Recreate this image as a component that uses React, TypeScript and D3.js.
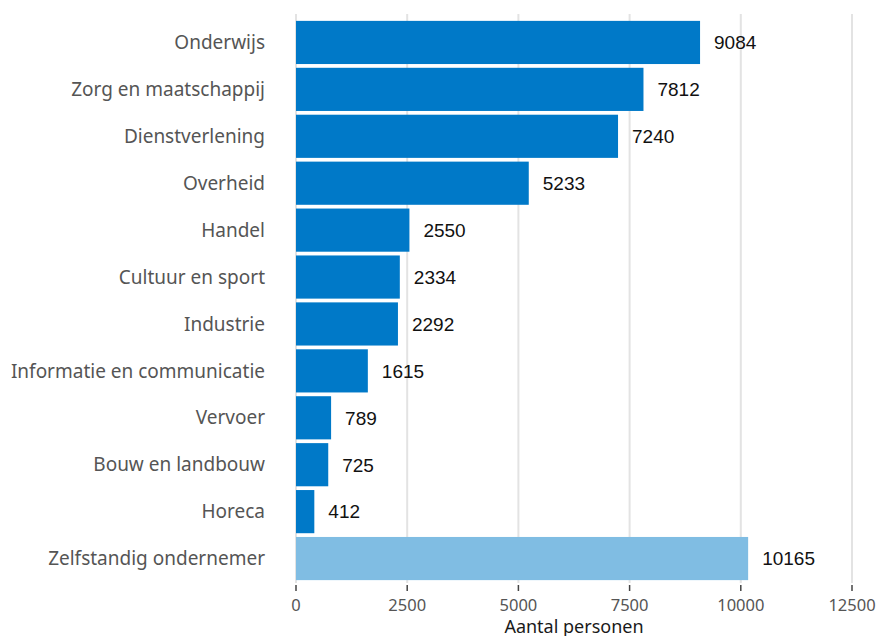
import * as d3 from 'd3';
import * as React from 'react';

const categories = [
    'Onderwijs',
    'Zorg en maatschappij',
    'Dienstverlening',
    'Overheid',
    'Handel',
    'Cultuur en sport',
    'Industrie',
    'Informatie en communicatie',
    'Vervoer',
    'Bouw en landbouw',
    'Horeca',
    'Zelfstandig ondernemer',
];
const values = [9084, 7812, 7240, 5233, 2550, 2334, 2292, 1615, 789, 725, 412, 10165];
const highlighted = ['Zelfstandig ondernemer'];
const xTicks = [0, 2500, 5000, 7500, 10000, 12500];
const xTitle = 'Aantal personen';

const width = 877;
const height = 636;
const left = 296;
const right = 852;
const top = 19;
const bottom = 582;

const darkBlue = '#0079c8';
const lightBlue = '#80bde3';
const labelFont = '"Noto Sans", sans-serif';

/**
 * Horizontal bar chart
 */
export default function App() {
    const x = d3.scaleLinear().domain([0, 12500]).range([left, right]);
    const y = d3.scaleBand<string>()
        .domain(categories)
        .range([top, bottom])
        .paddingInner(0.08)
        .paddingOuter(0.04);

    return (
        <svg width={width} height={height} style={{ position: 'absolute', left: 0, top: 0 }}>
            <rect width={width} height={height} fill="#fff" />
            {xTicks.map(t => (
                <g key={t}>
                    <line x1={x(t)} x2={x(t)} y1={14} y2={583} stroke="#e3e3e3" strokeWidth={2} />
                    <line x1={x(t)} x2={x(t)} y1={585} y2={591} stroke="#444" strokeWidth={1.5} />
                    <text x={x(t)} y={611} textAnchor="middle" fontFamily={labelFont}
                        fontSize={16.5} fill="#555">{t}</text>
                </g>
            ))}
            {categories.map((c, i) => {
                const yy = y(c) as number;
                const cy = yy + y.bandwidth() / 2;
                return (
                    <g key={c}>
                        <rect x={x(0)} y={yy} width={x(values[i]) - x(0)} height={y.bandwidth()}
                            fill={highlighted.includes(c) ? lightBlue : darkBlue} />
                        <text x={265} y={cy} dy="0.35em" textAnchor="end" fontFamily={labelFont}
                            fontSize={19} fill="#555">{c}</text>
                        <text x={x(values[i]) + 14} y={cy} dy="0.36em" fontFamily='"Liberation Sans", Arial, sans-serif'
                            fontSize={19} fill="#111">{values[i]}</text>
                    </g>
                );
            })}
            <text x={(left + right) / 2} y={633} textAnchor="middle" fontFamily={labelFont}
                fontSize={18} fill="#1a1a1a">{xTitle}</text>
        </svg>
    );
}
